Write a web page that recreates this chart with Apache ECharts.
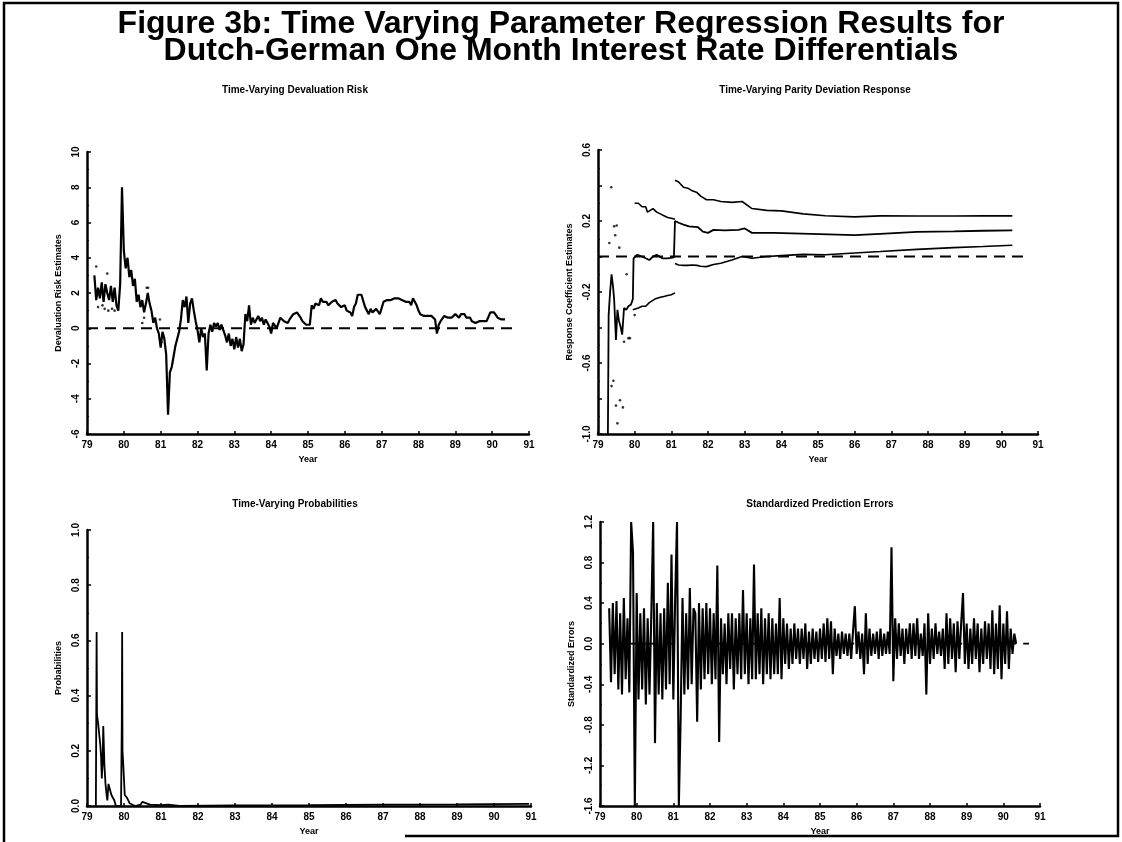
<!DOCTYPE html>
<html>
<head>
<meta charset="utf-8">
<script src="https://cdn.jsdelivr.net/npm/echarts@6/dist/echarts.min.js"></script>
<style>
  html, body { margin: 0; padding: 0; background: #fff; }
  #main { width: 1122px; height: 842px; }
</style>
</head>
<body>
<div id="main"></div>
<script>
// ---- data ----
// devaluation risk estimate, every 0.05 year from 1979.20
var devStart = 79.2;
var devRisk = [
  3.0, 1.6, 2.3, 1.7, 2.6, 1.5, 2.5, 2.0, 1.6, 2.4, 1.5, 2.3, 1.3, 1.0, 2.5, 8.0,
  4.4, 3.4, 4.0, 2.9, 3.3, 2.4, 2.8, 1.5, 1.9, 1.2, 1.6, 0.9, 1.4, 2.0, 1.4, 1.0, 0.3, 0.6, 0.0, -0.3,
  -1.1, -0.2, -0.6, -1.5, -4.9, -2.5, -2.2, -1.6, -1.0, -0.6, -0.2, 0.5, 1.6, 1.2, 1.8, 0.3, 1.4, 1.7, 1.0, 0.4,
  -0.1, -0.8, 0.0, -0.5, -0.3, -2.4, -0.3, 0.2, -0.2, 0.3, 0.1, 0.3, -0.1, 0.2, 0.1, -0.4, -0.8, -0.3, -1.0, -0.6,
  -1.2, -0.5, -1.1, -0.6, -1.3, -0.9, 0.8, 0.4, 1.3, 0.2, 0.6, 0.3, 0.5, 0.7, 0.4, 0.6, 0.2, 0.5, 0.3, 0.1,
  -0.3, 0.3, 0.2, 0.0, 0.3, 0.6, 0.7, 0.4, 0.5, 0.3, 0.5, 0.6, 0.8, 0.7, 0.9, 0.8, 0.6, 0.4, 0.3, 0.2,
  0.1, 0.2, 1.3, 1.1, 1.4, 1.5, 1.3, 1.7, 1.5, 1.4, 1.5, 1.3, 1.4, 1.5, 1.5, 1.6, 1.4, 1.5, 1.2, 1.3,
  1.3, 1.0, 1.1, 0.9, 0.7, 1.2, 1.4, 1.9, 1.8, 1.9, 1.8, 1.2, 1.0, 0.8, 1.1, 0.9, 1.0, 1.1, 1.0, 0.8,
  0.7, 1.5, 1.4, 1.6, 1.5, 1.6, 1.7, 1.7, 1.6, 1.7, 1.7, 1.6, 1.7, 1.5, 1.4, 1.5, 1.3, 1.7, 1.5, 1.3,
  1.0, 0.8, 0.8, 0.7, 0.8, 0.7, 0.6, 0.7, 0.6, 0.5, -0.3, 0.2, 0.4, 0.5, 0.7, 0.8, 0.6, 0.7, 0.6, 0.7,
  0.8, 0.7, 0.6, 0.8, 0.7, 0.8, 0.6, 0.5, 0.6, 0.4, 0.5, 0.3, 0.3, 0.4, 0.5, 0.4, 0.3, 0.4, 0.5, 0.9,
  1.0, 0.9, 0.8, 0.6, 0.7, 0.5, 0.55, 0.5
];
// stray band dots in the early part of the devaluation risk panel
var devDotYears = [79.25, 79.30, 79.42, 79.48, 79.55, 79.58, 79.68, 79.75, 80.50, 80.55, 80.62, 80.66, 80.98, 81.02];
var devDotValues = [3.5, 1.2, 1.3, 1.1, 3.1, 1.0, 1.1, 1.0, 0.3, 0.6, 2.3, 2.3, 0.5, -0.8];

// parity deviation response
var parityYears = [79.27, 79.29, 79.33, 79.37, 79.41, 79.44, 79.49, 79.53, 79.57, 79.61, 79.66, 79.71, 79.77, 79.83, 79.90, 79.95,
  79.97, 80.07, 80.2, 80.3, 80.4, 80.5, 80.6, 80.75, 80.9, 81.07, 81.1, 81.2, 81.33, 81.48, 81.72, 81.86, 82.0, 82.15,
  82.45, 82.83, 83.0, 83.2, 83.8, 84.8, 86.0, 86.7, 87.7, 88.7, 89.5, 90.3];
var parityEst = [-1.0, -0.33, -0.2, -0.1, -0.17, -0.24, -0.47, -0.3, -0.36, -0.39, -0.44, -0.29, -0.3, -0.28, -0.27, -0.24,
  -0.01, 0.01, 0.0, -0.01, -0.02, 0.0, 0.01, -0.01, -0.01, -0.005, 0.2, 0.19, 0.18, 0.17, 0.166, 0.14, 0.133, 0.15,
  0.147, 0.15, 0.158, 0.133, 0.133, 0.128, 0.12, 0.128, 0.139, 0.142, 0.145, 0.147];
var upperEarlyYears = [80.0, 80.05, 80.1, 80.2, 80.3, 80.35, 80.5, 80.6, 80.7, 80.8, 80.9, 81.0, 81.1];
var upperEarly = [0.3, 0.31, 0.3, 0.28, 0.28, 0.25, 0.27, 0.25, 0.24, 0.23, 0.22, 0.215, 0.21];
var lowerEarlyYears = [79.95, 80.0, 80.1, 80.2, 80.3, 80.4, 80.55, 80.7, 80.8, 80.9, 81.0, 81.1];
var lowerEarly = [-0.3, -0.29, -0.29, -0.28, -0.28, -0.26, -0.24, -0.23, -0.225, -0.22, -0.215, -0.205];
var bandYears = [81.1, 81.2, 81.33, 81.45, 81.57, 81.7, 81.8, 81.96, 82.15, 82.35, 82.65, 82.93, 83.2, 83.6, 84.0,
  84.6, 85.2, 86.0, 86.7, 87.7, 88.7, 89.5, 90.3];
var upperLate = [0.43, 0.42, 0.39, 0.385, 0.37, 0.36, 0.34, 0.32, 0.32, 0.31, 0.305, 0.31, 0.27, 0.26, 0.257,
  0.24, 0.23, 0.223, 0.229, 0.228, 0.228, 0.229, 0.229];
var lowerLate = [-0.04, -0.048, -0.05, -0.05, -0.048, -0.05, -0.055, -0.057, -0.045, -0.038, -0.02, 0.0, -0.01, 0.0, 0.005,
  0.012, 0.01, 0.02, 0.028, 0.04, 0.05, 0.056, 0.063];
var parityDotYears = [79.31, 79.36, 79.44, 79.47, 79.51, 79.58, 79.42, 79.37, 79.49, 79.60, 79.68, 79.53, 79.71, 79.83, 79.87, 79.78, 80.0];
var parityDots = [0.076, 0.39, 0.17, 0.12, 0.175, 0.05, -0.70, -0.73, -0.84, -0.81, -0.85, -0.94, -0.48, -0.46, -0.46, -0.1, -0.33];

// time-varying probabilities
var probYears = [79.24, 79.26, 79.27, 79.30, 79.33, 79.36, 79.38, 79.40, 79.42, 79.44, 79.47, 79.50, 79.53, 79.55, 79.58,
  79.62, 79.66, 79.70, 79.74, 79.78, 79.85, 79.92, 79.94, 79.95, 79.96, 79.98, 80.02, 80.08, 80.15, 80.3, 80.45, 80.5,
  80.55, 80.7, 81.0, 81.2, 81.5, 83.0, 85.0, 87.0, 89.0, 90.95];
var probValues = [0.0, 0.63, 0.33, 0.3, 0.26, 0.22, 0.18, 0.1, 0.15, 0.29, 0.15, 0.08, 0.04, 0.02, 0.08,
  0.06, 0.04, 0.045, 0.02, 0.0, 0.0, 0.0, 0.3, 0.63, 0.2, 0.15, 0.04, 0.03, 0.01, 0.0, 0.005, 0.015,
  0.01, 0.005, 0.003, 0.005, 0.0, 0.002, 0.003, 0.005, 0.006, 0.008];

// standardized prediction errors, every 0.05 year from 1979.25
var errStart = 79.25;
var predErrors = [
  0.35, -0.38, 0.4, -0.3, 0.42, -0.45, 0.3, -0.5, 0.45, -0.35, 0.25, -0.48, 1.2, 0.9, -1.6,
  0.5, -0.55, 0.3, -0.45, 0.35, -0.6, 0.25, -0.5, 0.3, 1.2, -0.98, 0.4, -0.5, 0.3, -0.55, 0.35, -0.45, 0.6, -0.4, 0.88,
  -0.55, 0.45, 1.2, -1.6, -0.72, 0.45, -0.5, 0.3, -0.45, 0.55, -0.4, 0.35, 0.3, -0.77, 0.4, -0.45, 0.35, -0.35, 0.4, -0.3,
  0.35, -0.4, 0.3, -0.35, 0.77, -0.97, 0.25, -0.3, 0.2, -0.4, 0.3, -0.25, 0.3, -0.45, 0.25, -0.3, 0.3, -0.35, 0.53, -0.3,
  0.3, -0.4, 0.25, -0.35, 0.78, -0.35, 0.3, -0.3, 0.35, -0.4, 0.25, -0.3, 0.3, -0.35, 0.25, -0.3, 0.2, -0.3, 0.45, -0.35,
  0.25, -0.2, 0.2, -0.25, 0.15, -0.2, 0.2, -0.15, 0.15, -0.2, 0.15, -0.15, 0.2, -0.25, 0.12, -0.2, 0.15, -0.15, 0.12, -0.18,
  0.15, -0.15, 0.2, -0.18, 0.25, -0.15, 0.22, -0.3, 0.15, -0.12, 0.1, -0.15, 0.12, -0.1, 0.1, -0.12, 0.1, -0.15, 0.12, 0.37,
  -0.1, 0.12, -0.15, 0.1, -0.3, 0.3, -0.2, 0.15, -0.12, 0.1, -0.1, 0.12, -0.15, 0.15, -0.12, 0.1, -0.1, 0.12, -0.1, 0.95,
  -0.37, 0.25, -0.15, 0.2, -0.12, 0.15, -0.2, 0.15, -0.1, 0.2, -0.15, 0.2, -0.12, 0.25, -0.15, 0.1, -0.12, 0.2, -0.5, 0.3,
  -0.2, 0.15, -0.15, 0.2, -0.1, 0.12, -0.12, 0.15, -0.25, 0.3, -0.2, 0.25, -0.15, 0.2, -0.28, 0.22, -0.15, 0.2, 0.5, -0.2,
  0.2, -0.25, 0.15, -0.2, 0.25, -0.15, 0.2, -0.28, 0.15, -0.2, 0.22, -0.15, 0.2, -0.25, 0.33, -0.3, 0.2, -0.25, 0.38, -0.35,
  0.2, -0.2, 0.32, -0.25, 0.15, -0.1, 0.1, 0.0
];

// dashed zero reference lines (start, end year)
var zeroLineDev = [79.0, 90.7];
var zeroLineParity = [79.0, 90.65];
var zeroLineErr = [79.25, 90.7];

// ---- helpers ----
var font = '"Liberation Sans", Arial, sans-serif';
function pairs(xs, ys) {
  return xs.map(function (x, i) { return [x, ys[i]]; });
}
function stepped(start, ys) {
  return ys.map(function (y, i) { return [+(start + i * 0.05).toFixed(2), y]; });
}

function makeX(i) {
  return {
    gridIndex: i, type: 'value', min: 79, max: 91, interval: 1,
    name: 'Year', nameLocation: 'middle', nameGap: 21,
    nameTextStyle: { fontFamily: font, fontWeight: 'bold', fontSize: 9, color: '#000' },
    axisLine: { onZero: false, lineStyle: { color: '#000', width: 2.5 } },
    axisTick: { inside: true, length: 3, lineStyle: { color: '#000', width: 1.5 } },
    axisLabel: { fontFamily: font, fontWeight: 'bold', fontSize: 10, color: '#000', margin: 6 },
    splitLine: { show: false }
  };
}
function makeY(i, name, min, max, interval, fmt) {
  return {
    gridIndex: i, type: 'value', min: min, max: max, interval: interval,
    name: name, nameLocation: 'middle', nameGap: 24, nameRotate: 90,
    nameTextStyle: { fontFamily: font, fontWeight: 'bold', fontSize: 9, color: '#000' },
    axisLine: { show: true, onZero: false, lineStyle: { color: '#000', width: 2.5 } },
    axisTick: { inside: true, length: 4, lineStyle: { color: '#000', width: 1.5 } },
    minorTick: { show: true, splitNumber: 2, length: 2, lineStyle: { color: '#000', width: 1 } },
    axisLabel: { rotate: 90, fontFamily: font, fontWeight: 'bold', fontSize: 10, color: '#000', margin: 6, formatter: fmt },
    splitLine: { show: false }
  };
}
function lineSeries(i, data, width, extra) {
  var s = {
    type: 'line', xAxisIndex: i, yAxisIndex: i, data: data, showSymbol: false, symbol: 'none',
    lineStyle: { color: '#000', width: width }, animation: false, silent: true
  };
  for (var k in extra) s[k] = extra[k];
  return s;
}
function dashed(i, ends) {
  return lineSeries(i, pairs(ends, [0, 0]), 1.8, { lineStyle: { color: '#000', width: 1.8, type: [11, 7] }, z: 1 });
}
function dots(i, xs, ys) {
  return {
    type: 'scatter', xAxisIndex: i, yAxisIndex: i, data: pairs(xs, ys), symbol: 'circle',
    symbolSize: 2.6, itemStyle: { color: '#000' }, animation: false, silent: true
  };
}
function subTitle(x, y, text) {
  return {
    type: 'text', x: x, y: y,
    style: { text: text, font: 'bold 10px ' + font, fill: '#000', align: 'center', verticalAlign: 'middle',
      textAlign: 'center', textVerticalAlign: 'middle' }
  };
}

var myChart = echarts.init(document.getElementById('main'));

var option = {
  backgroundColor: '#fff',
  animation: false,
  title: [
    { text: 'Figure 3b: Time Varying Parameter Regression Results for', left: 'center', top: 3,
      textStyle: { fontFamily: font, fontWeight: 'bold', fontSize: 32, color: '#000' } },
    { text: 'Dutch-German One Month Interest Rate Differentials', left: 'center', top: 30,
      textStyle: { fontFamily: font, fontWeight: 'bold', fontSize: 32, color: '#000' } }
  ],
  graphic: [
    { type: 'polyline', shape: { points: [[405, 836], [1118, 836], [1118, 3], [4, 3], [4, 842]] },
      style: { stroke: '#000', lineWidth: 2.5, fill: null } },
    subTitle(295, 90, 'Time-Varying Devaluation Risk'),
    subTitle(815, 90, 'Time-Varying Parity Deviation Response'),
    subTitle(295, 504, 'Time-Varying Probabilities'),
    subTitle(820, 504, 'Standardized Prediction Errors')
  ],
  grid: [
    { left: 87, top: 152, width: 442, height: 282 },
    { left: 598, top: 150, width: 440, height: 284 },
    { left: 87, top: 530, width: 444, height: 276 },
    { left: 600, top: 522, width: 440, height: 284 }
  ],
  xAxis: [makeX(0), makeX(1), makeX(2), makeX(3)],
  yAxis: [
    makeY(0, 'Devaluation Risk Estimates', -6, 10, 2, function (v) { return String(v); }),
    makeY(1, 'Response Coefficient Estimates', -1.0, 0.6, 0.2, function (v) {
      var k = Math.round((v + 1) / 0.2);
      return k % 2 === 0 ? v.toFixed(1) : '';
    }),
    makeY(2, 'Probabilities', 0, 1, 0.2, function (v) { return v.toFixed(1); }),
    makeY(3, 'Standardized Errors', -1.6, 1.2, 0.4, function (v) { return v.toFixed(1); })
  ],
  series: [
    dashed(0, zeroLineDev),
    dots(0, devDotYears, devDotValues),
    lineSeries(0, stepped(devStart, devRisk), 2.2),

    dashed(1, zeroLineParity),
    dots(1, parityDotYears, parityDots),
    lineSeries(1, pairs(upperEarlyYears, upperEarly), 1.6),
    lineSeries(1, pairs(lowerEarlyYears, lowerEarly), 1.6),
    lineSeries(1, pairs(bandYears, upperLate), 1.6),
    lineSeries(1, pairs(bandYears, lowerLate), 1.6),
    lineSeries(1, pairs(parityYears, parityEst), 1.8),

    lineSeries(2, pairs(probYears, probValues), 1.8),

    dashed(3, zeroLineErr),
    lineSeries(3, stepped(errStart, predErrors), 2.1)
  ]
};

myChart.setOption(option);
</script>
</body>
</html>
